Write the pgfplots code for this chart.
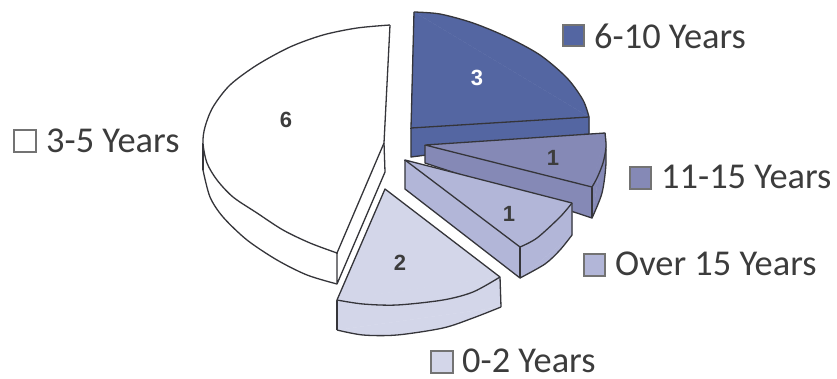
\documentclass[border=0pt]{standalone}
\usepackage{pgfplots}
\pgfplotsset{compat=1.18}
\usepackage{fontspec}
\setmainfont{Carlito}
\newfontfamily\numfont{Liberation Sans}
\definecolor{edgec}{HTML}{35353A}
\definecolor{yrsA}{HTML}{5466A2}
\definecolor{yrsB}{HTML}{8589B6}
\definecolor{yrsC}{HTML}{B2B6D8}
\definecolor{yrsD}{HTML}{D3D6E9}
\definecolor{txt}{HTML}{3C3C3C}
% one face of a wedge: corner polygon, curved rim, straight edges
\newcommand{\face}[4]{%
  \addplot[draw=#1,line width=0.5pt,fill=#1] coordinates {#2} -- cycle;
  \addplot[edge,smooth,fill=#1] coordinates {#3};
  \addplot[edge] coordinates {#4};
}
\newcommand{\legbox}[5]{%
  \addplot[draw=black!55,line width=1.2pt,fill=#1] coordinates {(#2,#3) (#4,#3) (#4,#5) (#2,#5)} -- cycle;
}
\newcommand{\leglabel}[3]{\node[anchor=west,inner sep=0pt,text=txt,font=\fontsize{36.4}{38}\selectfont] at (axis cs:#1,#2) {#3};}
\newcommand{\numlabel}[4]{\node[text=#3,inner sep=0pt,font=\numfont\fontsize{22}{24}\selectfont\bfseries] at (axis cs:#1,#2) {#4};}
\begin{document}
\begin{tikzpicture}
\begin{axis}[
  hide axis, scale only axis, width=837pt, height=378pt,
  xmin=0, xmax=837, ymin=0, ymax=378, y dir=reverse, clip=false,
  edge/.style={draw=edgec,line width=1.3pt,line join=round}
]
% 3-5 Years
\face{white}{(203,143) (203,170) (337,284) (337,253)}
  {(203,170) (210,197) (223,217) (247,240) (277,260) (307,275) (337,284)}
  {(203,143) (203,170)}
\face{white}{(337,253) (337,284) (385,172) (384,143)}
  {(337,253) (337,254)}
  {(337,253) (337,284) (385,172) (384,143)}
\face{white}{(390,25) (384,143) (337,253) (203,143)}
  {(390,25) (357,28) (323,35) (290,47) (257,65) (230,85) (213,107) (205,127) (203,143) (207,163) (217,180) (233,197) (257,213) (283,230) (310,243) (337,253)}
  {(337,253) (384,143) (390,25)}
% 6-10 Years
\face{yrsA}{(411,128) (589,117) (589,134) (411,157)}
  {(411,128) (411,129)}
  {(411,128) (411,157) (589,134) (589,117)}
\face{yrsA}{(414,12) (589,117) (411,128)}
  {(414,12) (440,14) (473,23) (507,37) (540,55) (567,78) (583,100) (589,117)}
  {(589,117) (411,128) (414,12)}
% 11-15 Years
\face{yrsB}{(425,145) (425,163) (592,218) (592,187)}
  {(425,145) (425,146)}
  {(425,145) (425,163) (592,218) (592,187)}
\face{yrsB}{(592,187) (592,218) (605,133)}
  {(605,133) (606,163) (602,193) (592,218)}
  {(592,218) (592,187)}
\face{yrsB}{(425,145) (605,133) (592,187)}
  {(605,133) (606,147) (603,163) (597,178) (592,187)}
  {(592,187) (425,145) (605,133)}
% Over 15 Years
\face{yrsC}{(405,160) (405,189) (520,278) (520,247)}
  {(405,160) (405,161)}
  {(405,160) (405,189) (520,278) (520,247)}
\face{yrsC}{(520,247) (520,278) (572,235) (572,203)}
  {(572,235) (560,250) (545,264) (520,278)}
  {(520,247) (520,278)}
\face{yrsC}{(405,160) (572,203) (520,247)}
  {(572,203) (560,217) (537,238) (520,247)}
  {(520,247) (405,160) (572,203) (572,235)}
% 0-2 Years
\face{yrsD}{(337,300) (337,330) (501,307) (500,277)}
  {(337,330) (363,335) (397,335) (443,328) (473,318) (501,307)}
  {(337,300) (337,330)}
\addplot[edge] coordinates {(501,307) (500,277)};
\face{yrsD}{(385,189) (500,277) (337,300)}
  {(500,277) (473,292) (443,300) (397,305) (363,304) (337,300)}
  {(337,300) (385,189) (500,277)}
% legend keys
\legbox{yrsA}{563}{25}{584}{46}
\legbox{yrsB}{630}{167}{651}{189}
\legbox{yrsC}{584}{254}{605}{276}
\legbox{white}{14}{130}{36}{152}
\legbox{yrsD}{431}{351}{453}{373}
% legend text
\leglabel{594}{36}{6-10 Years}
\leglabel{661}{177}{11-15 Years}
\leglabel{615}{264}{Over 15 Years}
\leglabel{46}{141}{3-5 Years}
\leglabel{462}{361}{0-2 Years}
% wedge counts
\numlabel{477}{78}{white}{3}
\numlabel{286}{120}{txt}{6}
\numlabel{400}{263}{txt}{2}
\numlabel{553}{158}{txt}{1}
\numlabel{509}{214}{txt}{1}
\end{axis}
\pgfresetboundingbox
\path[use as bounding box] (0,0) rectangle (837pt,378pt);
\end{tikzpicture}
\end{document}
